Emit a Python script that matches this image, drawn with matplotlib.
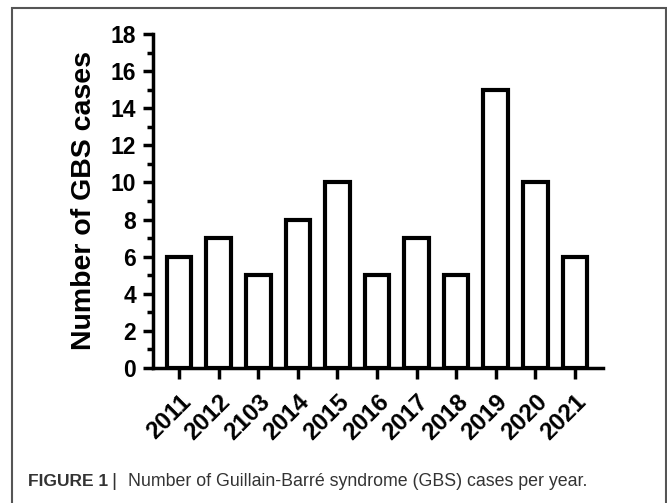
import matplotlib.pyplot as plt
from matplotlib.patches import Rectangle
from matplotlib.ticker import MultipleLocator

years = ['2011', '2012', '2103', '2014', '2015', '2016', '2017', '2018', '2019', '2020', '2021']
cases = [6, 7, 5, 8, 10, 5, 7, 5, 15, 10, 6]

plt.rcParams['font.family'] = ['Liberation Sans', 'DejaVu Sans']

fig = plt.figure(figsize=(6.67, 5.03), dpi=100)
ax = fig.add_axes([153 / 667, 1 - 368 / 503, 450 / 667, 334 / 503])

x = range(len(years))
ax.bar(x, cases, width=0.62, color='white', edgecolor='black', linewidth=3)

ax.set_xlim(-0.66, len(years) - 0.29)
ax.set_ylim(0, 18)
ax.yaxis.set_major_locator(MultipleLocator(2))
ax.yaxis.set_minor_locator(MultipleLocator(1))
ax.set_xticks(list(x))
ax.set_xticklabels(years, rotation=45, ha='right', rotation_mode='anchor',
                   fontsize=17.5, fontweight='bold')
for lab in ax.get_yticklabels():
    lab.set_fontsize(16.5)
    lab.set_fontweight('bold')

ax.spines['top'].set_visible(False)
ax.spines['right'].set_visible(False)
ax.spines['left'].set_linewidth(2.5)
ax.spines['bottom'].set_linewidth(2.5)
ax.tick_params(axis='y', which='major', length=7, width=2.5, pad=5)
ax.tick_params(axis='y', which='minor', length=4, width=2.5)
ax.tick_params(axis='x', which='major', length=8, width=2.5, pad=8)
ax.set_ylabel('Number of GBS cases', fontsize=20.5, fontweight='bold')
ax.yaxis.set_label_coords((97 - 153) / 450, 0.5)

# frame around figure
fig.patches.append(Rectangle((12 / 667, -0.01), 654 / 667, 1 - 8 / 503 + 0.01,
                             transform=fig.transFigure, fill=False,
                             edgecolor='#555555', linewidth=1.5))

cap_y = 1 - 481 / 503
fig.text(28 / 667, cap_y, 'FIGURE 1', fontsize=12.5, fontweight='bold',
         color='#333333', va='center', ha='left')
fig.text(111 / 667, cap_y, '|', fontsize=14, color='#333333', va='center', ha='left')
fig.text(128 / 667, cap_y, 'Number of Guillain-Barré syndrome (GBS) cases per year.',
         fontsize=12.8, color='#333333', va='center', ha='left')

fig.savefig('out.png', dpi=100)
